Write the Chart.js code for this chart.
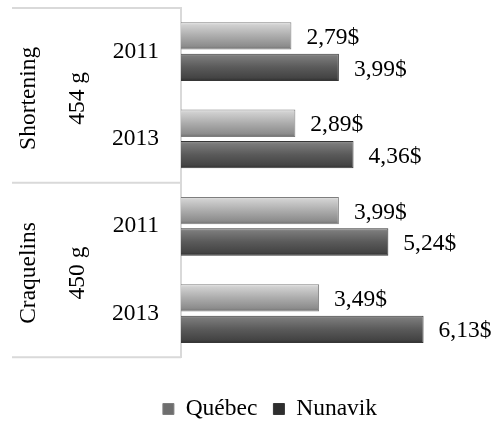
<!DOCTYPE html>
<html>
<head>
<meta charset="utf-8">
<script src="https://cdn.jsdelivr.net/npm/chart.js@4"></script>
<style>
  html, body { margin: 0; padding: 0; background: #fff; }
  #wrap { width: 497px; height: 422px; }
</style>
</head>
<body>
<div id="wrap"><canvas id="chart"></canvas></div>
<script>
// ── Données ──
const categories = ['2011', '2013', '2011', '2013'];
const groupNames = ['Shortening', 'Craquelins'];
const groupSizes = ['454 g', '450 g'];
const seriesNames = ['Québec', 'Nunavik'];
const quebec = [2.79, 2.89, 3.99, 3.49];
const nunavik = [3.99, 4.36, 5.24, 6.13];

const FONT = "'Liberation Serif', 'Times New Roman', serif";
const FONT_SIZE = 23.5;
const CAT_PCT = 0.72;
const BAR_PCT = 0.87;
const PAD_LEFT = 82;
const PAD_RIGHT = 39;
const AXIS_X = 181;

// dégradé vertical par barre, calculé depuis l'échelle y
function barFill(stops, flat) {
  return ctx => {
    const chart = ctx.chart;
    const y = chart.scales && chart.scales.y;
    if (ctx.type !== 'data' || !y || !chart.chartArea) return flat;
    const step = y.getPixelForValue(1) - y.getPixelForValue(0);
    const slot = step * CAT_PCT / 2;
    const center = y.getPixelForValue(ctx.dataIndex) + (ctx.datasetIndex === 0 ? -slot / 2 : slot / 2);
    const half = slot * BAR_PCT / 2;
    const g = chart.ctx.createLinearGradient(0, center - half, 0, center + half);
    stops.forEach(([p, c]) => g.addColorStop(p, c));
    return g;
  };
}

const fmt = v => v.toFixed(2).replace('.', ',') + '$';

// étiquettes de valeur à droite des barres
const valueLabels = {
  id: 'valueLabels',
  afterDatasetsDraw(chart) {
    const c = chart.ctx;
    c.save();
    c.font = FONT_SIZE + 'px ' + FONT;
    c.fillStyle = '#000';
    c.textBaseline = 'middle';
    c.textAlign = 'left';
    chart.data.datasets.forEach((ds, di) => {
      chart.getDatasetMeta(di).data.forEach((bar, i) => {
        c.fillText(fmt(ds.data[i]), bar.x + 15, bar.y + 2);
      });
    });
    c.restore();
  }
};

// axe hiérarchique : lignes de groupe et libellés verticaux
const groupAxis = {
  id: 'groupAxis',
  afterDraw(chart) {
    const c = chart.ctx;
    const y = chart.scales.y;
    const area = chart.chartArea;
    const mid = (y.getPixelForValue(1) + y.getPixelForValue(2)) / 2;
    c.save();
    c.strokeStyle = '#d9d9d9';
    c.lineWidth = 2;
    [area.top, mid, area.bottom].forEach(py => {
      c.beginPath();
      c.moveTo(12, py);
      c.lineTo(area.left, py);
      c.stroke();
    });
    c.font = FONT_SIZE + 'px ' + FONT;
    c.fillStyle = '#000';
    c.textAlign = 'center';
    c.textBaseline = 'middle';
    const bounds = [[area.top, mid], [mid, area.bottom]];
    groupNames.forEach((name, g) => {
      const cy = (bounds[g][0] + bounds[g][1]) / 2 + 3;
      [[name, 29], [groupSizes[g], 78]].forEach(([txt, cx]) => {
        c.save();
        c.translate(cx, cy);
        c.rotate(-Math.PI / 2);
        c.fillText(txt, 0, 0);
        c.restore();
      });
    });
    c.restore();
  }
};

const chart = new Chart(document.getElementById('chart'), {
  type: 'bar',
  data: {
    labels: categories,
    datasets: [
      {
        label: seriesNames[0],
        data: quebec,
        backgroundColor: barFill([[0, '#e6e6e6'], [0.1, '#d0d0d0'], [0.5, '#acacac'], [0.88, '#8c8c8c'], [1, '#6e6e6e']], '#acacac'),
        borderColor: '#7e7e7e',
        borderWidth: 1,
        categoryPercentage: CAT_PCT,
        barPercentage: BAR_PCT
      },
      {
        label: seriesNames[1],
        data: nunavik,
        backgroundColor: barFill([[0, '#9a9a9a'], [0.1, '#7a7a7a'], [0.5, '#5a5a5a'], [0.88, '#444444'], [1, '#2e2e2e']], '#5a5a5a'),
        borderColor: '#363636',
        borderWidth: 1,
        categoryPercentage: CAT_PCT,
        barPercentage: BAR_PCT
      }
    ]
  },
  options: {
    indexAxis: 'y',
    responsive: true,
    maintainAspectRatio: false,
    animation: false,
    layout: { padding: { top: 8, left: PAD_LEFT, right: PAD_RIGHT, bottom: -8.75 } },
    plugins: {
      legend: {
        position: 'bottom',
        labels: {
          font: { family: FONT, size: FONT_SIZE },
          color: '#000',
          boxWidth: 11,
          boxHeight: 11,
          padding: 16
        }
      },
      tooltip: { enabled: false }
    },
    scales: {
      x: {
        min: 0,
        max: 7,
        grid: { display: false },
        border: { display: false },
        ticks: { display: false },
        afterFit: s => { s.height = 24; s.paddingLeft = 0; s.paddingRight = 0; }
      },
      y: {
        grid: { display: false, drawTicks: false },
        border: { display: true, color: '#d9d9d9', width: 2 },
        ticks: { font: { family: FONT, size: FONT_SIZE }, color: '#000', padding: 22 },
        afterFit: s => {
          s.width = AXIS_X - PAD_LEFT;
          s.paddingTop = 0;
          s.paddingBottom = 0;
        }
      }
    }
  },
  plugins: [valueLabels, groupAxis]
});
chart.update();
</script>
</body>
</html>
